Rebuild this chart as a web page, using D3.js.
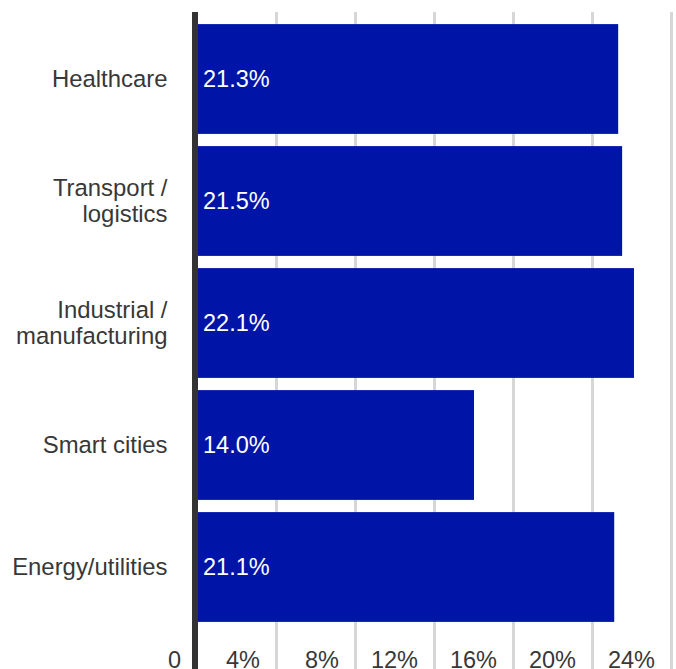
<!DOCTYPE html>
<html>
<head>
<meta charset="utf-8">
<script src="https://cdn.jsdelivr.net/npm/d3@7/dist/d3.min.js"></script>
<style>
  html, body { margin: 0; padding: 0; background: #fff; }
  svg { display: block; font-family: "Liberation Sans", Arial, Helvetica, sans-serif; }
</style>
</head>
<body>
<svg id="chart" width="676" height="669"></svg>
<script>
// Share of IoT projects by sector
const categories = [
  ["Healthcare"],
  ["Transport /", "logistics"],
  ["Industrial /", "manufacturing"],
  ["Smart cities"],
  ["Energy/utilities"]
];
const values = [21.3, 21.5, 22.1, 14.0, 21.1];
const tickValues = [0, 4, 8, 12, 16, 20, 24];
const tickLabels = ["0", "4%", "8%", "12%", "16%", "20%", "24%"];

const W = 676, H = 669;
const FS = 23.5;
const svg = d3.select("#chart");

const x = d3.scaleLinear().domain([0, 24]).range([197.5, 671.5]);
const y = d3.scaleBand()
  .domain(d3.range(values.length))
  .range([18, 628])
  .paddingInner(0.1)
  .paddingOuter(0.05);

// vertical gridlines
svg.append("g").selectAll("line")
  .data(tickValues.slice(1))
  .join("line")
  .attr("x1", d => x(d)).attr("x2", d => x(d))
  .attr("y1", 12).attr("y2", H)
  .attr("stroke", "#d6d6d6")
  .attr("stroke-width", 3);

// bars
svg.append("g").selectAll("rect")
  .data(values)
  .join("rect")
  .attr("x", x(0))
  .attr("y", (d, i) => y(i))
  .attr("width", d => x(d) - x(0))
  .attr("height", y.bandwidth())
  .attr("fill", "#0015a8");

// value labels inside bars
svg.append("g").selectAll("text")
  .data(values)
  .join("text")
  .attr("x", x(0) + 5.5)
  .attr("y", (d, i) => y(i) + y.bandwidth() / 2 + 8)
  .attr("fill", "#fff")
  .attr("font-size", FS)
  .text(d => d.toFixed(1) + "%");

// category labels, possibly wrapped onto two lines
const lineH = 26;
const cat = svg.append("g").selectAll("text")
  .data(categories)
  .join("text")
  .attr("text-anchor", "end")
  .attr("fill", "#383838")
  .attr("font-size", 23.9)
  .attr("y", (d, i) => y(i) + y.bandwidth() / 2 + 8 - (d.length - 1) * lineH / 2);
cat.selectAll("tspan")
  .data(d => d)
  .join("tspan")
  .attr("x", 167.5)
  .attr("dy", (d, j) => j === 0 ? 0 : lineH)
  .text(d => d);

// x tick labels, right-aligned just before each gridline
svg.append("g").selectAll("text")
  .data(tickValues)
  .join("text")
  .attr("x", d => x(d) - 16.5)
  .attr("y", 668)
  .attr("text-anchor", "end")
  .attr("fill", "#383838")
  .attr("font-size", FS)
  .text((d, i) => tickLabels[i]);

// y axis line
svg.append("line")
  .attr("x1", 195).attr("x2", 195)
  .attr("y1", 12).attr("y2", H)
  .attr("stroke", "#333")
  .attr("stroke-width", 6);
</script>
</body>
</html>
